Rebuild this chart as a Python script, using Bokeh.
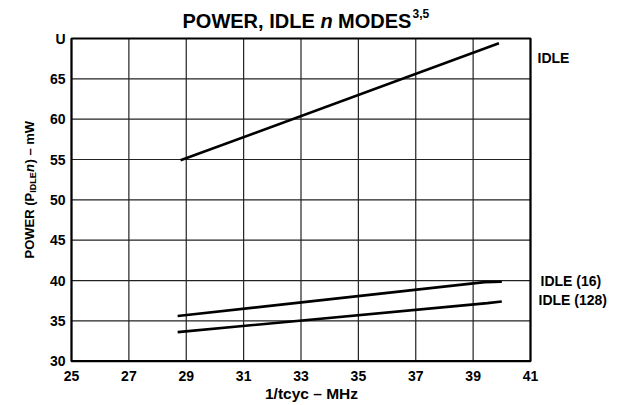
import math
from bokeh.plotting import figure
from bokeh.models import Range1d, Label
from bokeh.core.properties import value
from bokeh.embed import file_html
from bokeh.resources import INLINE

# ---- data ----
freq_ticks = [25, 27, 29, 31, 33, 35, 37, 39, 41]
freq_tick_labels = ["25", "27", "29", "31", "33", "35", "37", "39", "41"]
power_ticks = [30, 35, 40, 45, 50, 55, 60, 65, 70]
power_tick_labels = ["30", "35", "40", "45", "50", "55", "60", "65", "U"]

idle_x = [28.8, 39.9]
idle_y = [54.9, 69.4]
idle16_x = [28.7, 39.4, 40.0]
idle16_y = [35.6, 39.8, 39.85]
idle128_x = [28.7, 39.5, 40.0]
idle128_y = [33.6, 37.2, 37.4]

series_names = ["IDLE", "IDLE (16)", "IDLE (128)"]

FONT = "Liberation Sans"

W, H = 620, 403
# chart box placement in page pixels (as in the reference)
FL, FR, FT, FB = 71, 530, 38, 360.7
XMIN, XMAX, YMIN, YMAX = 25, 41, 30, 70
sx = (FR - FL) / (XMAX - XMIN)
sy = (FB - FT) / (YMAX - YMIN)


def dx(px):
    return XMIN + (px - FL) / sx


def dy(py):
    return YMIN + (FB - py) / sy


p = figure(width=W, height=H, output_backend="svg", toolbar_location=None,
           x_range=Range1d(dx(0), dx(W)), y_range=Range1d(dy(H), dy(0)),
           min_border=0, x_axis_type=None, y_axis_type=None)
p.xgrid.visible = False
p.ygrid.visible = False
p.outline_line_color = None
p.background_fill_color = "white"
p.border_fill_color = "white"

# grid lines
p.segment(x0=freq_ticks, x1=freq_ticks, y0=[YMIN] * len(freq_ticks), y1=[YMAX] * len(freq_ticks),
          line_color="#222222", line_width=1.2)
p.segment(x0=[XMIN] * len(power_ticks), x1=[XMAX] * len(power_ticks), y0=power_ticks, y1=power_ticks,
          line_color="#222222", line_width=1.2)
# chart box
p.quad(left=[XMIN], right=[XMAX], bottom=[YMIN], top=[YMAX], fill_color=None,
       line_color="black", line_width=2.2)

# tick labels
p.text(x=freq_ticks, y=[YMIN] * len(freq_ticks), text=freq_tick_labels, y_offset=15,
       text_font=value(FONT), text_align="center", text_baseline="middle",
       text_font_size="14px", text_font_style="bold", text_color="black")
p.text(x=[XMIN] * len(power_ticks), y=power_ticks, text=power_tick_labels, x_offset=-6,
       text_font=value(FONT), text_align="right", text_baseline="middle",
       text_font_size="14px", text_font_style="bold", text_color="black")

# series
for xs, ys in ((idle_x, idle_y), (idle16_x, idle16_y), (idle128_x, idle128_y)):
    p.line(xs, ys, line_color="black", line_width=2.6)


def lab(text, x, y, size, style="bold", align="left", baseline="middle", angle=0.0):
    p.add_layout(Label(x=x, y=y, text=text, text_font=FONT, text_font_style=style,
                       text_font_size=size, text_color="black", text_align=align,
                       text_baseline=baseline, angle=angle))


# series labels at right
lab(series_names[0], dx(537), dy(57), "14px")
lab(series_names[1], dx(540), dy(280), "14px")
lab(series_names[2], dx(538), dy(299), "14px")

# title (pieces laid out left to right, 20px bold)
tb = 20
t0 = 182
lab("POWER, IDLE", dx(t0), dy(tb), "20px", baseline="alphabetic")
lab("n", dx(t0 + 138), dy(tb), "20px", style="bold italic", baseline="alphabetic")
lab("MODES", dx(t0 + 155.5), dy(tb), "20px", baseline="alphabetic")
lab("3,5", dx(t0 + 230), dy(tb - 7), "12px", baseline="alphabetic")

# x axis label
lab("1/tcyc \u2013 MHz", dx(311), dy(393), "15.5px", align="center")

# y axis label (rotated, built from pieces)
ang = math.pi / 2
xc = 29
y0 = 258
lab("POWER (P", dx(xc), dy(y0), "13px", angle=ang)
lab("IDLE", dx(xc + 3), dy(y0 - 65.7), "9px", angle=ang)
lab("n", dx(xc), dy(y0 - 86.5), "13px", style="bold italic", angle=ang)
lab(") \u2013 mW", dx(xc), dy(y0 - 95), "13px", angle=ang)

open("out.html", "w").write(file_html(p, INLINE))
